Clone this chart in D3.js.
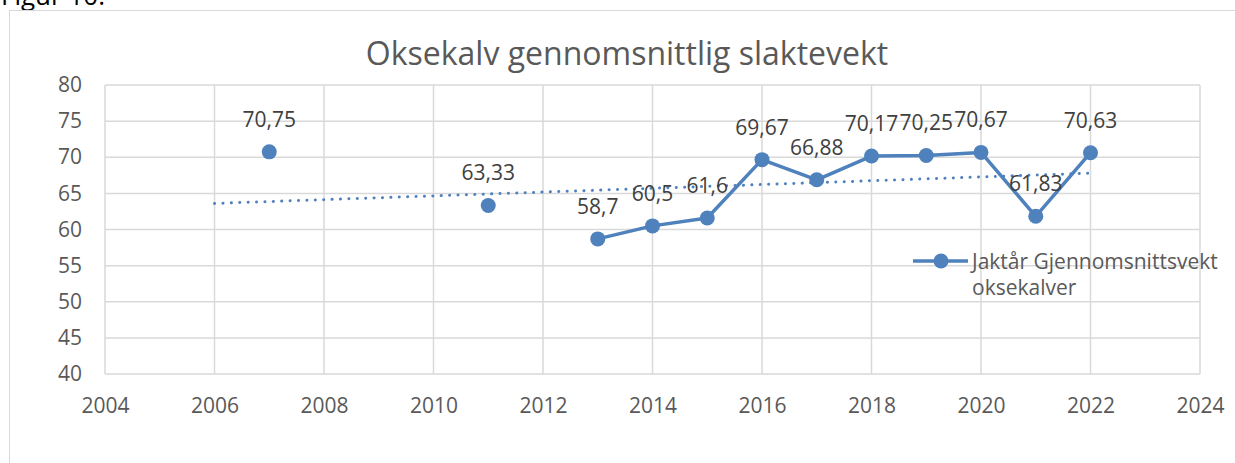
<!DOCTYPE html>
<html>
<head>
<meta charset="utf-8">
<script src="https://cdn.jsdelivr.net/npm/d3@7"></script>
<style>
  body { margin: 0; background: #fff; }
  svg { display: block; font-family: "Open Sans", "Noto Sans", sans-serif; }
</style>
</head>
<body>
<div id="chart"></div>
<script>
// data
var years = [2007, 2011, 2013, 2014, 2015, 2016, 2017, 2018, 2019, 2020, 2021, 2022];
var weights = [70.75, 63.33, 58.7, 60.5, 61.6, 69.67, 66.88, 70.17, 70.25, 70.67, 61.83, 70.63];
var labels = ['70,75', '63,33', '58,7', '60,5', '61,6', '69,67', '66,88', '70,17', '70,25', '70,67', '61,83', '70,63'];
var xTicks = [2004, 2006, 2008, 2010, 2012, 2014, 2016, 2018, 2020, 2022, 2024];
var yTicks = [40, 45, 50, 55, 60, 65, 70, 75, 80];
var trendRange = [2006, 2022];

var W = 1235, H = 463;
var blue = '#4f81bd';
var grey = '#595959';

var svg = d3.select('#chart').append('svg')
  .attr('width', W).attr('height', H);

svg.append('text').attr('x', 1).attr('y', 5)
  .style('font-size', '26px').style('fill', '#000')
  .text('Figur 10:');

// chart frame
svg.append('rect').attr('x', 9.5).attr('y', 10.5)
  .attr('width', 1240).attr('height', 470)
  .style('fill', 'none').style('stroke', '#d9d9d9').style('stroke-width', 1);

var x = d3.scaleLinear().domain([2004, 2024]).range([105, 1200]);
var y = d3.scaleLinear().domain([40, 80]).range([374, 85]);

svg.append('text').attr('x', 627).attr('y', 65)
  .attr('text-anchor', 'middle')
  .style('font-size', '32px').style('fill', grey)
  .text('Oksekalv gennomsnittlig slaktevekt');

// grid
var grid = svg.append('g').style('stroke', '#d9d9d9').style('stroke-width', 1.5);
grid.selectAll('.h').data(yTicks).enter().append('line')
  .attr('x1', x(2004)).attr('x2', x(2024))
  .attr('y1', function(d){ return y(d); }).attr('y2', function(d){ return y(d); });
grid.selectAll('.v').data(xTicks).enter().append('line')
  .attr('y1', y(40)).attr('y2', y(80))
  .attr('x1', function(d){ return x(d); }).attr('x2', function(d){ return x(d); });

// axes (labels only)
var yAxis = svg.append('g').attr('transform', 'translate(' + x(2004) + ',0)')
  .call(d3.axisLeft(y).tickValues(yTicks).tickSize(0).tickPadding(23));
var xAxis = svg.append('g').attr('transform', 'translate(0,' + y(40) + ')')
  .call(d3.axisBottom(x).tickValues(xTicks).tickFormat(d3.format('d')).tickSize(0).tickPadding(24));
[yAxis, xAxis].forEach(function(a){
  a.select('.domain').remove();
  a.selectAll('text').style('font-size', '21px').style('fill', grey).style('font-family', '"Open Sans", sans-serif');
});

// linear trendline
var mx = d3.mean(years), my = d3.mean(weights);
var sxy = d3.sum(years, function(d, i){ return (d - mx) * (weights[i] - my); });
var sxx = d3.sum(years, function(d){ return (d - mx) * (d - mx); });
var slope = sxy / sxx, icpt = my - slope * mx;
svg.append('line')
  .attr('x1', x(trendRange[0])).attr('y1', y(icpt + slope * trendRange[0]))
  .attr('x2', x(trendRange[1])).attr('y2', y(icpt + slope * trendRange[1]))
  .style('stroke', blue).style('stroke-width', 3)
  .style('stroke-linecap', 'round').style('stroke-dasharray', '0.1 8.3');

// line: only consecutive years are joined
var pts = years.map(function(d, i){ return {x: d, y: weights[i], l: labels[i]}; });
var line = d3.line()
  .defined(function(d, i){ return i > 0 && pts[i - 1].x === d.x - 1 || (i < pts.length - 1 && pts[i + 1].x === d.x + 1); })
  .x(function(d){ return x(d.x); }).y(function(d){ return y(d.y); });
svg.append('path').datum(pts).attr('d', line)
  .style('fill', 'none').style('stroke', blue).style('stroke-width', 3.5).style('stroke-linejoin', 'round');

svg.selectAll('.pt').data(pts).enter().append('circle')
  .attr('cx', function(d){ return x(d.x); }).attr('cy', function(d){ return y(d.y); })
  .attr('r', 7.5).style('fill', blue);

svg.selectAll('.lbl').data(pts).enter().append('text')
  .attr('x', function(d){ return x(d.x); }).attr('y', function(d){ return y(d.y) - 25; })
  .attr('text-anchor', 'middle')
  .style('font-size', '21px').style('fill', '#404040')
  .text(function(d){ return d.l; });

// legend
var lg = svg.append('g').attr('transform', 'translate(913,261)');
lg.append('line').attr('x1', 0).attr('x2', 55).style('stroke', blue).style('stroke-width', 3.5);
lg.append('circle').attr('cx', 28).attr('r', 7.5).style('fill', blue);
lg.append('text').attr('x', 59).attr('y', 8).style('font-size', '21px').style('fill', grey)
  .text('Jaktår Gjennomsnittsvekt');
lg.append('text').attr('x', 59).attr('y', 34).style('font-size', '21px').style('fill', grey)
  .text('oksekalver');
</script>
</body>
</html>
